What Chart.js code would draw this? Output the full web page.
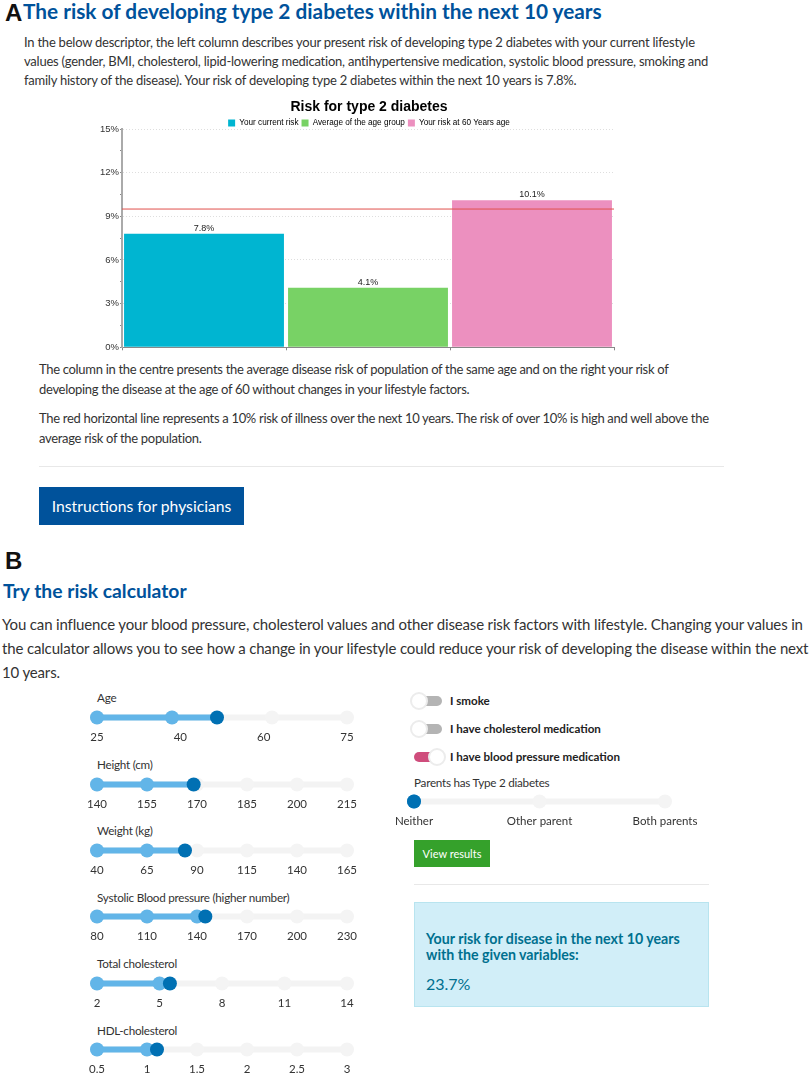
<!DOCTYPE html>
<html>
<head>
<meta charset="utf-8">
<script src="https://cdn.jsdelivr.net/npm/chart.js@4"></script>
<style>
  html, body { margin: 0; padding: 0; background: #fff; }
  #page { position: relative; width: 809px; height: 1074px; overflow: hidden; font-family: Lato, sans-serif; color: #333; }
  #page > div, #page > canvas { position: absolute; white-space: nowrap; }
  .panel { font: bold 24px "Liberation Sans", sans-serif; color: #111; }
  .h1 { font-weight: bold; font-size: 20.8px; color: #00529b; }
  .h2 { font-weight: bold; font-size: 19.3px; color: #00529b; }
  .p { font-size: 13px; line-height: 19px; letter-spacing: -0.23px; }
  .p2 { font-size: 13px; line-height: 19.5px; letter-spacing: -0.31px; }
  .big { font-size: 15px; line-height: 24px; letter-spacing: -0.15px; }
  .btn { background: #00529b; color: #fff; font-size: 15.7px; text-align: center; }
  .hr { height: 1px; background: #e8e8e8; }
  .lab { font-size: 11.7px; letter-spacing: -0.25px; }
  .tog { font-size: 11.6px; font-weight: bold; color: #222; }
  .track { width: 28px; height: 10px; border-radius: 5px; background: #b4b4b4; }
  .on { background: #cf4d7c; }
  .knob { width: 14px; height: 14px; border-radius: 50%; background: #fff; border: 2px solid #ececec; }
  .green { background: #35a12b; color: #fff; font-size: 11px; text-align: center; line-height: 27px; }
  .box { background: #d1eef8; border: 1px solid #b8e4ef; }
  .res { color: #00708f; font-weight: bold; font-size: 14.2px; line-height: 16px; }
  .val { color: #00708f; font-size: 16px; }
</style>
</head>
<body>
<div id="page">
  <div class="panel" style="left:5px;top:-1px">A</div>
  <div class="h1" style="left:23px;top:-2px">The risk of developing type 2 diabetes within the next 10 years</div>
  <div class="p" style="left:24px;top:33px">In the below descriptor, the left column describes your present risk of developing type 2 diabetes with your current lifestyle<br>values (gender, BMI, cholesterol, lipid-lowering medication, antihypertensive medication, systolic blood pressure, smoking and<br>family history of the disease). Your risk of developing type 2 diabetes within the next 10 years is 7.8%.</div>
  <canvas id="riskChart" style="left:89px;top:96px;width:560px;height:258px"></canvas>
  <div class="p2" style="left:39px;top:360px">The column in the centre presents the average disease risk of population of the same age and on the right your risk of<br>developing the disease at the age of 60 without changes in your lifestyle factors.</div>
  <div class="p2" style="left:39px;top:409px">The red horizontal line represents a 10% risk of illness over the next 10 years. The risk of over 10% is high and well above the<br>average risk of the population.</div>
  <div class="hr" style="left:39px;top:466px;width:685px"></div>
  <div class="btn" style="left:39px;top:487px;width:205px;height:38px;line-height:38px">Instructions for physicians</div>

  <div class="panel" style="left:5px;top:547px">B</div>
  <div class="h2" style="left:3px;top:579px">Try the risk calculator</div>
  <div class="big" style="left:2px;top:612px">You can influence your blood pressure, cholesterol values and other disease risk factors with lifestyle. Changing your values in<br>the calculator allows you to see how a change in your lifestyle could reduce your risk of developing the disease within the next<br>10 years.</div>

  <div class="lab" style="left:97px;top:690px">Age</div>
  <div class="lab" style="left:97px;top:757px">Height (cm)</div>
  <div class="lab" style="left:97px;top:823px">Weight (kg)</div>
  <div class="lab" style="left:97px;top:890px">Systolic Blood pressure (higher number)</div>
  <div class="lab" style="left:97px;top:956px">Total cholesterol</div>
  <div class="lab" style="left:97px;top:1023px">HDL-cholesterol</div>
  <canvas id="sliderAge" style="left:60px;top:708px;width:310px;height:36px"></canvas>
  <canvas id="sliderHeight" style="left:60px;top:775px;width:310px;height:36px"></canvas>
  <canvas id="sliderWeight" style="left:60px;top:841px;width:310px;height:36px"></canvas>
  <canvas id="sliderSystolic" style="left:60px;top:907px;width:310px;height:36px"></canvas>
  <canvas id="sliderTotal" style="left:60px;top:974px;width:310px;height:36px"></canvas>
  <canvas id="sliderHdl" style="left:60px;top:1040px;width:310px;height:36px"></canvas>

  <div class="track" style="left:414px;top:696px"></div><div class="knob" style="left:410px;top:692px"></div>
  <div class="tog" style="left:450px;top:694px">I smoke</div>
  <div class="track" style="left:414px;top:724px"></div><div class="knob" style="left:410px;top:720px"></div>
  <div class="tog" style="left:450px;top:722px">I have cholesterol medication</div>
  <div class="track on" style="left:414px;top:752px"></div><div class="knob" style="left:428px;top:748px"></div>
  <div class="tog" style="left:450px;top:750px">I have blood pressure medication</div>
  <div class="lab" style="left:414px;top:775px">Parents has Type 2 diabetes</div>
  <canvas id="sliderParents" style="left:370px;top:792px;width:360px;height:36px"></canvas>

  <div class="green" style="left:414px;top:840px;width:76px;height:27px">View results</div>
  <div class="hr" style="left:414px;top:884px;width:295px"></div>
  <div class="box" style="left:414px;top:902px;width:293px;height:103px"></div>
  <div class="res" style="left:426px;top:931px">Your risk for disease in the next 10 years<br>with the given variables:</div>
  <div class="val" style="left:426px;top:974px">23.7%</div>
</div>

<script>
// risk chart data
const riskLabels = ["Your current risk", "Average of the age group", "Your risk at 60 Years age"];
const riskValues = [7.8, 4.1, 10.1];
const riskColors = ["#00b5d1", "#78d265", "#ec90bf"];
const thresholdValue = 9.5;
const yTicks = [0, 3, 6, 9, 12, 15];

// slider data
const ageMarks = [25, 40, 60, 75];
const ageValue = 49;
const heightMarks = [140, 155, 170, 185, 200, 215];
const heightValue = 169;
const weightMarks = [40, 65, 90, 115, 140, 165];
const weightValue = 84;
const systolicMarks = [80, 110, 140, 170, 200, 230];
const systolicValue = 145;
const totalMarks = [2, 5, 8, 11, 14];
const totalValue = 5.5;
const hdlMarks = [0.5, 1, 1.5, 2, 2.5, 3];
const hdlValue = 1.1;
const parentsMarks = [0, 1, 2];
const parentsLabels = ["Neither", "Other parent", "Both parents"];
const parentsValue = 0;

const barLabelPlugin = {
  id: "barLabels",
  beforeLayout(chart) {
    // pull the plot up close under the legend
    const legend = chart.legend;
    if (legend && !legend.trimmed) {
      const fit = legend.fit;
      legend.fit = function () {
        fit.call(this);
        this.height -= 8;
      };
      legend.trimmed = true;
    }
  },
  afterDatasetsDraw(chart) {
    const ctx = chart.ctx;
    ctx.save();
    ctx.font = '9px "Liberation Sans"';
    ctx.fillStyle = "#222";
    ctx.textAlign = "center";
    ctx.textBaseline = "bottom";
    const bars = chart.getDatasetMeta(0).data;
    riskValues.forEach((v, i) => {
      ctx.fillText(v.toFixed(1) + "%", bars[i].x, bars[i].y - 1);
    });
    ctx.restore();
  },
};

new Chart("riskChart", {
  type: "bar",
  data: {
    labels: riskLabels,
    datasets: [
      {
        data: riskValues,
        backgroundColor: riskColors,
        grouped: false,
        barPercentage: 0.975,
        categoryPercentage: 1,
        order: 2,
      },
      {
        type: "line",
        data: [{ x: 0, y: thresholdValue }, { x: 1, y: thresholdValue }],
        xAxisID: "xLine",
        borderColor: "#e0504c",
        borderWidth: 1,
        pointRadius: 0,
        order: 1,
      },
    ],
  },
  plugins: [barLabelPlugin],
  options: {
    responsive: false,
    animation: false,
    plugins: {
      title: {
        display: true,
        text: "Risk for type 2 diabetes",
        color: "#000",
        font: { family: "Liberation Sans", size: 14, weight: "bold" },
        padding: { top: 3, bottom: 0 },
      },
      legend: {
        labels: {
          boxWidth: 7,
          boxHeight: 7,
          padding: 3,
          color: "#333",
          font: { family: "Liberation Sans", size: 8.2 },
          generateLabels: () =>
            riskLabels.map((text, i) => ({ text, fillStyle: riskColors[i], lineWidth: 0, strokeStyle: riskColors[i] })),
        },
      },
      tooltip: { enabled: false },
    },
    scales: {
      x: {
        ticks: { display: false },
        grid: { drawOnChartArea: false, tickLength: 3, color: "#888" },
        border: { color: "#888" },
      },
      xLine: { type: "linear", display: false, min: 0, max: 1, offset: false },
      y: {
        min: 0,
        max: 15,
        afterFit: (scale) => { scale.width = 33; },
        afterBuildTicks: (scale) => {
          const list = [];
          yTicks.forEach((v, i) => {
            list.push({ value: v });
            if (i < yTicks.length - 1) list.push({ value: v + 1.5 });
          });
          scale.ticks = list;
        },
        ticks: {
          autoSkip: false,
          padding: 1,
          color: "#333",
          font: { family: "Liberation Sans", size: 9.5 },
          callback: (v) => (yTicks.includes(v) ? v + "%" : ""),
        },
        grid: {
          tickLength: 2,
          color: (c) => (yTicks.includes(c.tick.value) && c.tick.value > 0 ? "#dedede" : "rgba(0,0,0,0)"),
          tickColor: "#888",
          tickBorderDash: [],
        },
        border: { color: "#aaa", width: 2, dash: [1, 2] },
      },
      // empty axis on the right so the title stays centred over the plot
      yGap: {
        position: "right",
        grid: { display: false, drawTicks: false },
        border: { display: false },
        ticks: { display: false },
        afterFit: (scale) => { scale.width = 35; },
      },
    },
  },
});

function slider(id, marks, value, labels, padLeft, padRight) {
  const min = marks[0];
  const max = marks[marks.length - 1];
  const at = (x) => ({ x, y: 0.75 });
  const passed = marks.filter((m) => m <= value);
  new Chart(id, {
    type: "line",
    data: {
      datasets: [
        { data: [at(min), at(max)], borderColor: "#f3f3f3", borderWidth: 6, pointRadius: 0, order: 5 },
        { data: marks.map(at), showLine: false, pointRadius: 7, pointBackgroundColor: "#f4f4f4", pointBorderWidth: 0, order: 4 },
        { data: [at(min), at(value)], borderColor: "#62b5e8", borderWidth: 6, pointRadius: 0, order: 3 },
        { data: passed.map(at), showLine: false, pointRadius: 7, pointBackgroundColor: "#62b5e8", pointBorderWidth: 0, order: 2 },
        { data: [at(value)], showLine: false, pointRadius: 7, pointBackgroundColor: "#0070b3", pointBorderWidth: 0, order: 1 },
      ],
    },
    options: {
      responsive: false,
      animation: false,
      clip: false,
      layout: { padding: { left: padLeft, right: padRight, top: 0, bottom: 0 } },
      plugins: { legend: { display: false }, tooltip: { enabled: false } },
      scales: {
        x: {
          type: "linear",
          min,
          max,
          afterFit: (scale) => { scale.height = 19; },
          afterBuildTicks: (scale) => {
            // labels sit evenly along the track even if the marks do not
            scale.ticks = marks.map((m, i) => ({ value: min + (i * (max - min)) / (marks.length - 1) }));
          },
          grid: { display: false, drawTicks: false },
          border: { display: false },
          ticks: {
            autoSkip: false,
            maxRotation: 0,
            padding: 5,
            color: "#333",
            font: { family: "Lato", size: 11.5 },
            callback: function (v, i) { return labels[i]; },
          },
        },
        y: { display: false, min: 0, max: 1 },
      },
    },
  });
}

slider("sliderAge", ageMarks, ageValue, ageMarks, 37, 23);
slider("sliderHeight", heightMarks, heightValue, heightMarks, 37, 23);
slider("sliderWeight", weightMarks, weightValue, weightMarks, 37, 23);
slider("sliderSystolic", systolicMarks, systolicValue, systolicMarks, 37, 23);
slider("sliderTotal", totalMarks, totalValue, totalMarks, 37, 23);
slider("sliderHdl", hdlMarks, hdlValue, hdlMarks, 37, 23);
slider("sliderParents", parentsMarks, parentsValue, parentsLabels, 44, 65);
</script>
</body>
</html>
